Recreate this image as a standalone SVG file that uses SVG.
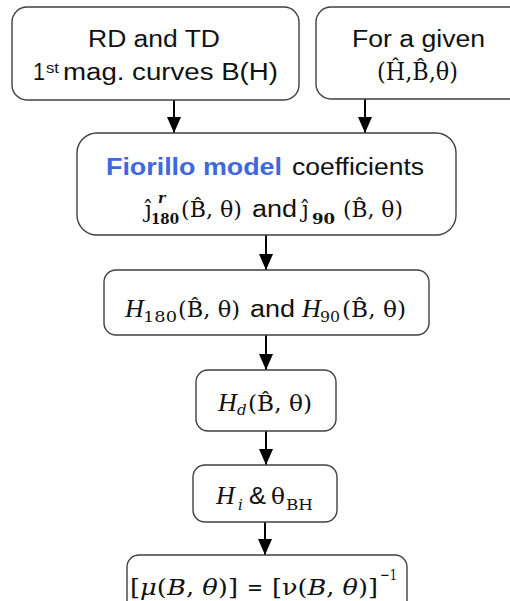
<svg xmlns="http://www.w3.org/2000/svg" width="510" height="601" viewBox="0 0 510 601">
<style>
.box{fill:#fff;stroke:#404040;stroke-width:1.4}
.s{font-family:"Liberation Sans",Arial,sans-serif;font-size:23px;fill:#111}
.m{font-family:"DejaVu Serif","Liberation Serif",serif;font-size:22px;fill:#111}
.mi{font-family:"Liberation Serif","DejaVu Serif",serif;font-size:26px;font-style:italic;fill:#111}
.sub{font-family:"DejaVu Serif","Liberation Serif",serif;font-size:15px;fill:#111}
.b{font-weight:bold}
.blue{fill:#3F68E0;font-weight:bold}
.ln{stroke:#000;stroke-width:2;fill:none}
</style>
<defs>
<marker id="ah" viewBox="0 0 16 14" refX="16" refY="7" markerWidth="16" markerHeight="14" markerUnits="userSpaceOnUse" orient="auto">
<path d="M0,0 L16,7 L0,14 Z" fill="#000"/>
</marker>
</defs>
<rect width="510" height="601" fill="#fff"/>
<g id="connectors">
<line class="ln" x1="174" y1="100" x2="174" y2="133" marker-end="url(#ah)"/>
<line class="ln" x1="365" y1="99" x2="365" y2="133" marker-end="url(#ah)"/>
<line class="ln" x1="266" y1="235" x2="266" y2="270" marker-end="url(#ah)"/>
<line class="ln" x1="266" y1="335" x2="266" y2="370" marker-end="url(#ah)"/>
<line class="ln" x1="266" y1="431" x2="266" y2="465" marker-end="url(#ah)"/>
<line class="ln" x1="265" y1="522" x2="265" y2="555" marker-end="url(#ah)"/>
</g>
<g id="n1">
<rect class="box" x="12" y="7" width="287" height="93" rx="15"/>
<text class="s" x="88" y="47" textLength="132" lengthAdjust="spacingAndGlyphs">RD and TD</text>
<text class="s" x="33" y="80" textLength="12" lengthAdjust="spacingAndGlyphs">1</text>
<text class="s" x="46" y="73" style="font-size:14px" textLength="13" lengthAdjust="spacingAndGlyphs">st</text>
<text class="s" x="63" y="80" textLength="215" lengthAdjust="spacingAndGlyphs">mag. curves B(H)</text>
</g>
<g id="n2">
<rect class="box" x="316" y="7" width="210" height="92" rx="15"/>
<text class="s" x="352" y="47" textLength="133" lengthAdjust="spacingAndGlyphs">For a given</text>
<text class="m" x="377" y="80" style="font-size:24px" textLength="81" lengthAdjust="spacingAndGlyphs">(Ĥ,B̂,θ)</text>
</g>
<g id="n3">
<rect class="box" x="77" y="133" width="379" height="102" rx="20"/>
<text class="s blue" x="106" y="175" textLength="176" lengthAdjust="spacingAndGlyphs">Fiorillo model</text>
<text class="s" x="292" y="175" textLength="132" lengthAdjust="spacingAndGlyphs">coefficients</text>
<text class="m" x="145" y="217">ĵ</text>
<text class="sub b" x="158" y="203" style="font-style:italic;font-size:14px">r</text>
<text class="sub b" x="151" y="224" textLength="28" lengthAdjust="spacingAndGlyphs">180</text>
<text class="m" x="181" y="217" textLength="61" lengthAdjust="spacingAndGlyphs">(B̂, θ)</text>
<text class="s" x="252" y="217" textLength="45" lengthAdjust="spacingAndGlyphs">and</text>
<text class="m" x="302" y="217">ĵ</text>
<text class="sub b" x="312" y="224" textLength="23" lengthAdjust="spacingAndGlyphs">90</text>
<text class="m" x="343" y="217" textLength="60" lengthAdjust="spacingAndGlyphs">(B̂, θ)</text>
</g>
<g id="n4">
<rect class="box" x="104" y="270" width="325" height="65" rx="12"/>
<text class="mi" x="125" y="317">H</text>
<text class="sub" x="143" y="322" textLength="34" lengthAdjust="spacingAndGlyphs">180</text>
<text class="m" x="178" y="317" textLength="62" lengthAdjust="spacingAndGlyphs">(B̂, θ)</text>
<text class="s" x="250" y="317" textLength="45" lengthAdjust="spacingAndGlyphs">and</text>
<text class="mi" x="302" y="317">H</text>
<text class="sub" x="320" y="322" textLength="20" lengthAdjust="spacingAndGlyphs">90</text>
<text class="m" x="342" y="317" textLength="64" lengthAdjust="spacingAndGlyphs">(B̂, θ)</text>
</g>
<g id="n5">
<rect class="box" x="196" y="370" width="140" height="61" rx="12"/>
<text class="mi" x="218" y="411">H</text>
<text class="sub" x="237" y="415" style="font-style:italic">d</text>
<text class="m" x="248" y="411" textLength="64" lengthAdjust="spacingAndGlyphs">(B̂, θ)</text>
</g>
<g id="n6">
<rect class="box" x="193" y="465" width="144" height="57" rx="12"/>
<text class="mi" x="216" y="504">H</text>
<text class="sub" x="238" y="510" style="font-style:italic">i</text>
<text class="s" x="249" y="504" textLength="17" lengthAdjust="spacingAndGlyphs">&amp;</text>
<text class="m" x="271" y="504" textLength="14" lengthAdjust="spacingAndGlyphs">θ</text>
<text class="sub" x="286" y="510" textLength="27" lengthAdjust="spacingAndGlyphs">BH</text>
</g>
<g id="n7">
<rect class="box" x="127" y="555" width="280" height="60" rx="12"/>
<text class="m" x="130" y="595" textLength="108" lengthAdjust="spacingAndGlyphs">[<tspan font-style="italic">μ</tspan>(<tspan font-style="italic">B</tspan>, <tspan font-style="italic">θ</tspan>)]</text>
<text class="m" x="247" y="595" textLength="16" lengthAdjust="spacingAndGlyphs">=</text>
<text class="m" x="272" y="595" textLength="106" lengthAdjust="spacingAndGlyphs">[ν(<tspan font-style="italic">B</tspan>, <tspan font-style="italic">θ</tspan>)]</text>
<text class="sub" x="380" y="580" textLength="17" lengthAdjust="spacingAndGlyphs">−1</text>
</g>
</svg>
